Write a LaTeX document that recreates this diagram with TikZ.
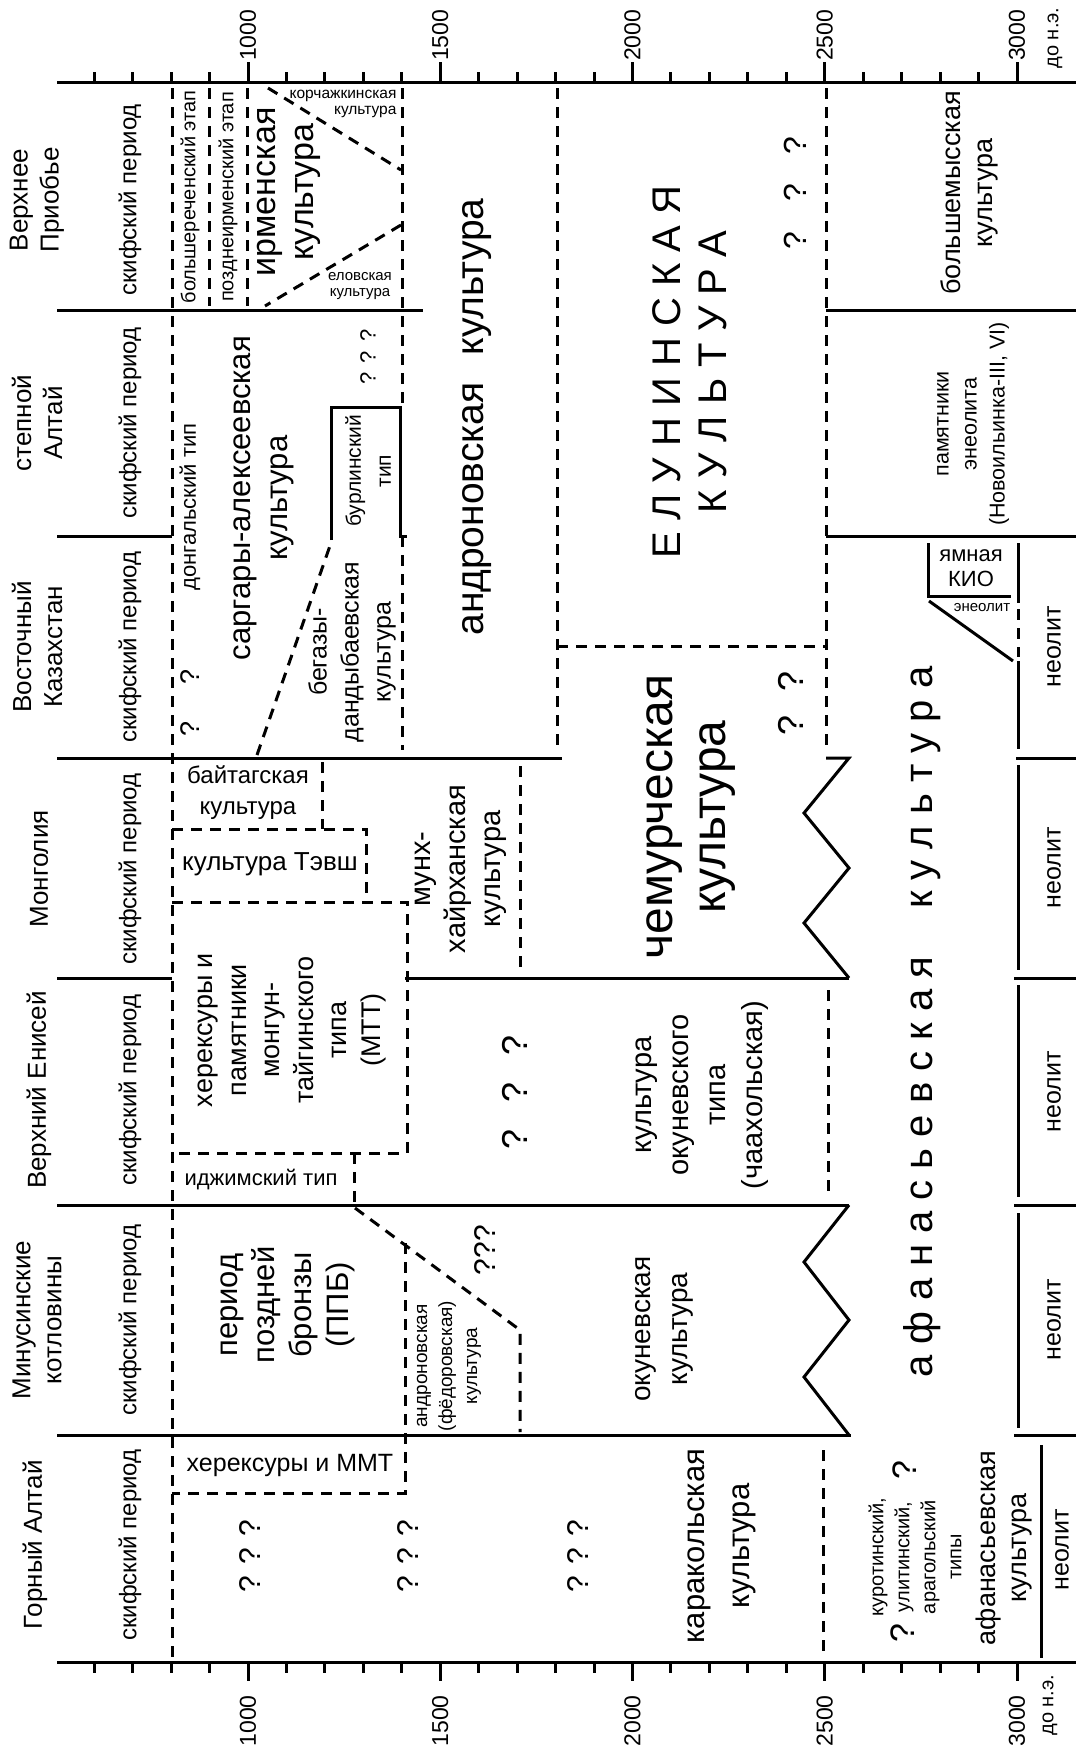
\documentclass[tikz,border=0pt]{standalone}
\usepackage{fontspec}
\setmainfont{Liberation Sans}
\newcommand{\fz}[2]{\fontsize{#1pt}{#2pt}\selectfont}
\newcommand{\qmarks}[1]{?\hspace{#1}?\hspace{#1}?}
\tikzset{
  bnd/.style={line width=3pt},
  unc/.style={line width=3pt, dash pattern=on 11pt off 8pt},
  vlbl/.style={rotate=90, align=center, inner sep=0pt},
  hlbl/.style={align=center, inner sep=0pt},
  tck/.style={line width=3pt},
}
\begin{document}
\begin{tikzpicture}[x=1pt, y=-1pt,
  every node/.style={font=\fz{24}{28}},
  axlbl/.style={rotate=90, inner sep=1pt, font=\fz{23}{26}},
  hdr/.style={vlbl, font=\fz{26}{31}},
  per/.style={vlbl, font=\fz{24}{28}},
  neo/.style={vlbl, font=\fz{25}{28}},
]
\useasboundingbox (0,0) rectangle (1076,1748);

% time axes
\draw[bnd] (57,82) -- (1076,82);
\draw[bnd] (57,1662) -- (1076,1662);
\foreach \yr in {600,700,...,3000}{
  \pgfmathsetmacro\tx{248+(\yr-1000)*0.3845}
  \draw[tck] (\tx,82) -- (\tx,72);
  \draw[tck] (\tx,1662) -- (\tx,1673);
}
\foreach \yr in {1000,1500,...,3000}{
  \pgfmathsetmacro\tx{248+(\yr-1000)*0.3845}
  \draw[tck] (\tx,82) -- (\tx,62);
  \draw[tck] (\tx,1662) -- (\tx,1681);
  \node[axlbl, anchor=west] (up\yr) at (\tx,62) {\yr};
  \node[axlbl, anchor=east] (dn\yr) at (\tx,1694) {\yr};
}
\node[axlbl, font=\fz{20}{22}] (bcUp) at (1055,38) {до н.э.};
\node[axlbl, font=\fz{20}{22}] (bcDn) at (1050,1705) {до н.э.};

% row boundaries
\draw[bnd] (57,310) -- (423,310);
\draw[bnd] (826,310) -- (1076,310);
\draw[bnd] (57,536) -- (172,536);
\draw[bnd] (826,536) -- (1076,536);
\draw[bnd] (57,758) -- (562,758);
\draw[bnd] (1016,758) -- (1076,758);
\draw[bnd] (57,978) -- (172,978);
\draw[bnd] (405,978) -- (849,978);
\draw[bnd] (1014,978) -- (1076,978);
\draw[bnd] (57,1205) -- (849,1205);
\draw[bnd] (1014,1205) -- (1076,1205);
\draw[bnd] (57,1435) -- (851,1435);
\draw[bnd] (1014,1435) -- (1076,1435);
\draw[bnd] (826,758) -- (849,758) -- (804,813) -- (849,868) -- (804,923) -- (849,978);
\draw[bnd] (849,1205) -- (804,1262) -- (849,1320) -- (804,1377) -- (849,1435);

% neolithic column
\draw[bnd] (1018,543) -- (1018,603);
\draw[unc] (1018,609) -- (1018,657);
\draw[bnd] (1018,661) -- (1018,749);
\draw[bnd] (1018,765) -- (1018,970);
\draw[bnd] (1018,985) -- (1018,1197);
\draw[bnd] (1018,1213) -- (1018,1428);
\draw[bnd] (1041,1445) -- (1041,1658);
\draw[bnd] (928,543) -- (928,596) -- (1011,596);
\draw[bnd] (929,601) -- (1013,661);

% dashed limits
\draw[unc] (172,88) -- (172,1660);
\draw[unc] (209,88) -- (209,306);
\draw[unc] (247,88) -- (247,306);
\draw[unc] (268,88) -- (401,170);
\draw[unc] (401,225) -- (265,306);
\draw[unc] (402,88) -- (402,407);
\draw[unc] (402,536) -- (402,750);
\draw[unc] (557,88) -- (557,750);
\draw[unc] (557,646) -- (826,646);
\draw[unc] (826,88) -- (826,750);
\draw[unc] (828,990) -- (828,1195);
\draw[unc] (823,1450) -- (823,1658);
\draw[unc] (257,755) -- (332,540);
\draw[bnd] (331,540) -- (331,407) -- (400,407) -- (400,536) -- (407,536);
\draw[unc] (322,762) -- (322,829);
\draw[unc] (172,829) -- (366,829) -- (366,902);
\draw[unc] (172,902) -- (407,902) -- (407,1153) -- (172,1153);
\draw[unc] (354,1153) -- (354,1205);
\draw[unc] (520,766) -- (520,975);
\draw[unc] (355,1208) -- (520,1330) -- (520,1432);
\draw[unc] (405,1243) -- (405,1493) -- (172,1493);

% regions
\node[hdr] (hdrOb) at (37,200) {Верхнее\\Приобье};
\node[hdr] (hdrSt) at (37,423) {степной\\Алтай};
\node[hdr] (hdrKz) at (37,647) {Восточный\\Казахстан};
\node[hdr] (hdrMn) at (39,869) {Монголия};
\node[hdr] (hdrEn) at (39,1090) {Верхний Енисей};
\node[hdr] (hdrMi) at (37,1320) {Минусинские\\котловины};
\node[hdr] (hdrGa) at (35,1545) {Горный Алтай};
\foreach \py/\nm in {200/a,423/b,647/c,869/d,1090/e,1320/f,1545/g}
  \node[per] (sky\nm) at (130,\py) {скифский период};

% Upper Ob
\node[vlbl, font=\fz{20}{22}] (bolsh) at (190,197) {большереченский этап};
\node[vlbl, font=\fz{20}{22}] (pozd) at (228,197) {позднеирменский этап};
\node[vlbl, font=\fz{34}{38}] (irmen) at (289,192) {ирменская\\культура};
\node[hlbl, align=right, font=\fz{15.5}{16}] (korch) at (343,104) {корчажкинская\\культура};
\node[hlbl, font=\fz{15}{16}] (elov) at (360,286) {еловская\\культура};
\node[vlbl, font=\fz{39}{44}] (andr) at (477,417) {андроновская\hspace{0.7em}культура};
\node[vlbl, font=\fz{40}{46}] (elun) at (690,372) {Е Л У Н И Н С К А Я\\К У Л Ь Т У Р А};
\node[vlbl, font=\fz{32}{36}] (qOb) at (795,193) {\qmarks{30pt}};
\node[vlbl, font=\fz{27}{32}] (bmys) at (969,193) {большемысская\\культура};

% steppe Altai
\node[vlbl, font=\fz{22}{24}] (dong) at (190,507) {донгальский тип};
\node[vlbl, font=\fz{31}{37}] (sarg) at (264,498) {саргары-алексеевская\\культура};
\node[vlbl, font=\fz{21}{30}] (burl) at (368,471) {бурлинский\\тип};
\node[vlbl, font=\fz{22}{26}] (qBurl) at (368,357) {\qmarks{9pt}};
\node[vlbl, font=\fz{21.5}{28}] (pamE) at (973,424) {памятники\\энеолита\\(Новоильинка-III, VI)};

% East Kazakhstan
\node[vlbl, font=\fz{27}{30}] (qKz) at (190,703) {?\hspace{37pt}?};
\node[vlbl, font=\fz{25}{32}] (begaz) at (352,652) {бегазы-\\дандыбаевская\\культура};
\node[vlbl, font=\fz{36}{40}] (qKzb) at (791,703) {?\hspace{24pt}?};
\node[hlbl, font=\fz{22}{25}] (yamn) at (971,568) {ямная\\КИО};
\node[hlbl, font=\fz{15}{17}] (eneol) at (982,608) {энеолит};

% Mongolia
\node[hlbl, font=\fz{24}{31}] (bait) at (248,793) {байтагская\\культура};
\node[hlbl, font=\fz{26}{30}] (tevsh) at (270,864) {культура Тэвш};
\node[vlbl, font=\fz{29}{35}] (munh) at (461,869) {мунх-\\хайрханская\\культура};
\node[vlbl, font=\fz{48}{53}] (chem) at (691,817) {чемурческая\\культура};

% Upper Yenisei
\node[vlbl, font=\fz{27}{33.5}] (herex) at (292,1030) {херексуры и\\памятники\\монгун-\\тайгинского\\типа\\(МТТ)};
\node[hlbl, font=\fz{22}{25}] (idzh) at (261,1180) {иджимский тип};
\node[vlbl, font=\fz{36}{40}] (qEn) at (515,1092) {\qmarks{27pt}};
\node[vlbl, font=\fz{29}{37}] (okTip) at (702,1095) {культура\\окуневского\\типа\\(чаахольская)};

% Minusinsk
\node[vlbl, font=\fz{31}{37}] (ppb) at (288,1305) {период\\поздней\\бронзы\\(ППБ)};
\node[vlbl, font=\fz{19}{25}] (fedor) at (449,1366) {андроновская\\(фёдоровская)\\культура};
\node[vlbl, font=\fz{30}{34}] (qMi) at (485,1250) {???};
\node[vlbl, font=\fz{28}{37}] (okun) at (664,1329) {окуневская\\культура};

% Altai mountains
\node[hlbl, font=\fz{25}{28}] (herMMT) at (290,1465) {херексуры и ММТ};
\foreach \qx/\nm in {250/a,408/b,578/c}
  \node[vlbl, font=\fz{30}{34}] (qGa\nm) at (\qx,1556) {? ? ?};
\node[vlbl, font=\fz{31}{45}] (karak) at (722,1546) {каракольская\\культура};
\node[vlbl, font=\fz{20}{26}] (kurot) at (915,1557) {куротинский,\\улитинский,\\арагольский\\типы};
\node[vlbl, font=\fz{34}{38}] (qGad) at (903,1633) {?};
\node[vlbl, font=\fz{34}{38}] (qGae) at (905,1470) {?};
\node[vlbl, font=\fz{27}{31}] (afanGa) at (1004,1548) {афанасьевская\\культура};

% neolithic and Afanasievo
\foreach \ny/\nm in {647/a,868/b,1092/c,1320/d}
  \node[neo] (neo\nm) at (1054,\ny) {неолит};
\node[neo] (neoe) at (1062,1550) {неолит};
\node[vlbl, font=\fz{40}{44}] (afan) at (922,1022) {а ф а н а с ь е в с к а я\hspace{1.2em}к у л ь т у р а};
\end{tikzpicture}
\end{document}
